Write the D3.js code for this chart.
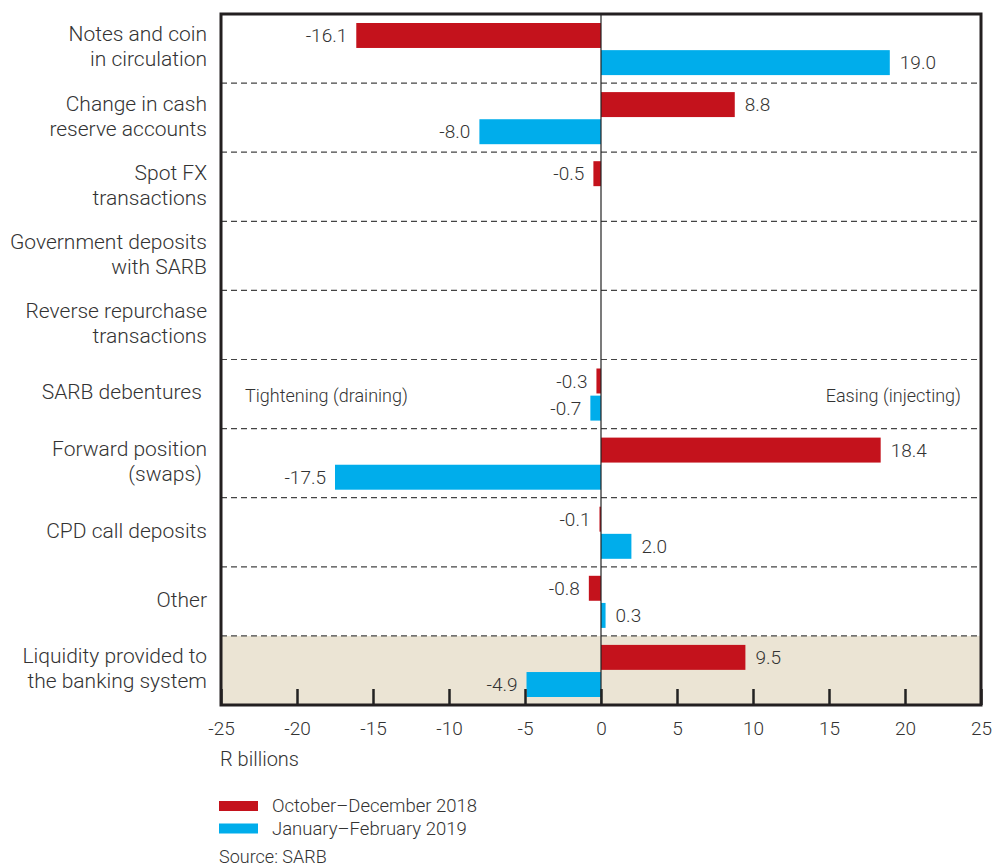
<!DOCTYPE html>
<html><head><meta charset="utf-8">
<script src="https://cdn.jsdelivr.net/npm/d3@7"></script>
<style>
body{margin:0;background:#fff;}
svg text{font-family:"Roboto","Liberation Sans",sans-serif;font-weight:300;fill:#333;}
</style></head>
<body><svg id="c" width="993" height="866"></svg>
<script>
const categories = ["Notes and coin\nin circulation","Change in cash\nreserve accounts","Spot FX\ntransactions","Government deposits\nwith SARB","Reverse repurchase\ntransactions","SARB debentures ","Forward position\n(swaps) ","CPD call deposits","Other","Liquidity provided to\nthe banking system"];
const seriesNames = ["October–December 2018","January–February 2019"];
const octDec2018 = [-16.1, 8.8, -0.5, null, null, -0.3, 18.4, -0.1, -0.8, 9.5];
const janFeb2019 = [19.0, -8.0, null, null, null, -0.7, -17.5, 2.0, 0.3, -4.9];
const xTicks = [-25,-20,-15,-10,-5,0,5,10,15,20,25];
const colors = ["#c4121c","#00adeb"];

const hyph = s => s.replace(/\u2212/g,"-");
const svg = d3.select("#c");
const L=221, R=981, T=14, B=705;
const x = d3.scaleLinear().domain([-25,25]).range([L,R]);
const y = d3.scaleBand().domain(categories).range([T,B]);
const yi = d3.scaleBand().domain([0,1]).range([9, y.bandwidth()-8]).paddingInner(0.08);

// shaded last row
const last = categories[categories.length-1];
svg.append("rect").attr("x",L).attr("y",y(last)).attr("width",R-L).attr("height",y.bandwidth()).attr("fill","#ebe4d4");

// dashed separators
svg.selectAll("line.sep").data(categories.slice(1)).join("line")
  .attr("x1",L).attr("x2",R).attr("y1",d=>y(d)).attr("y2",d=>y(d))
  .attr("stroke","#444").attr("stroke-width",1.2).attr("stroke-dasharray","6,4");

// bars
const series=[octDec2018,janFeb2019];
series.forEach((vals,si)=>{
  const data = categories.map((c,i)=>({c,v:vals[i]})).filter(d=>d.v!==null);
  svg.selectAll("rect.s"+si).data(data).join("rect")
    .attr("x",d=>x(Math.min(0,d.v))).attr("width",d=>Math.abs(x(d.v)-x(0)))
    .attr("y",d=>y(d.c)+yi(si)).attr("height",yi.bandwidth()).attr("fill",colors[si]);
  svg.selectAll("text.s"+si).data(data).join("text")
    .attr("x",d=>d.v<0? x(d.v)-9 : x(d.v)+10)
    .attr("y",d=>y(d.c)+yi(si)+yi.bandwidth()/2)
    .attr("dy","0.35em").attr("font-size",19)
    .attr("text-anchor",d=>d.v<0?"end":"start")
    .text(d=>hyph(d3.format(".1f")(d.v)));
});

// zero line
svg.append("line").attr("x1",x(0)).attr("x2",x(0)).attr("y1",T).attr("y2",B).attr("stroke","#222").attr("stroke-width",1.2);

// axis ticks (inward)
const ax = d3.axisBottom(x).tickValues(xTicks).tickSize(-16).tickPadding(17).tickFormat(d=>hyph(d3.format("d")(d)));
const g = svg.append("g").attr("transform",`translate(0,${B})`).call(ax);
g.select(".domain").remove();
g.selectAll(".tick line").attr("stroke","#222").attr("stroke-width",2.5);
g.selectAll(".tick text").attr("font-size",19).style("font-family",'"Roboto","Liberation Sans",sans-serif').style("font-weight",300).attr("fill","#333");

// frame
svg.append("rect").attr("x",L).attr("y",T).attr("width",R-L).attr("height",B-T).attr("fill","none").attr("stroke","#231f20").attr("stroke-width",3);

// category labels
categories.forEach(c=>{
  const lines=c.split("\n");
  const cy=y(c)+y.bandwidth()/2-2;
  const lh=25;
  lines.forEach((ln,k)=>{
    svg.append("text").attr("x",207).attr("y",cy+(k-(lines.length-1)/2)*lh)
      .attr("dy","0.35em").attr("text-anchor","end").attr("font-size",21)
      .style("white-space","pre").attr("xml:space","preserve").text(ln);
  });
});

// annotations
const mid = y("SARB debentures ")+y.bandwidth()/2;
svg.append("text").attr("x",245).attr("y",mid+2).attr("dy","0.35em").attr("font-size",18).text("Tightening (draining)");
svg.append("text").attr("x",961).attr("y",mid+2).attr("dy","0.35em").attr("font-size",18).attr("text-anchor","end").text("Easing (injecting)");

// axis title
svg.append("text").attr("x",220).attr("y",759).attr("dy","0.35em").attr("font-size",20).text("R billions");

// legend
seriesNames.forEach((n,i)=>{
  const yy=806+i*22.5;
  svg.append("rect").attr("x",219).attr("y",yy-5).attr("width",39).attr("height",10).attr("fill",colors[i]);
  svg.append("text").attr("x",272).attr("y",yy).attr("dy","0.35em").attr("font-size",18.5).text(n);
});
svg.append("text").attr("x",219).attr("y",857).attr("dy","0.35em").attr("font-size",18).text("Source: SARB");
</script></body></html>
